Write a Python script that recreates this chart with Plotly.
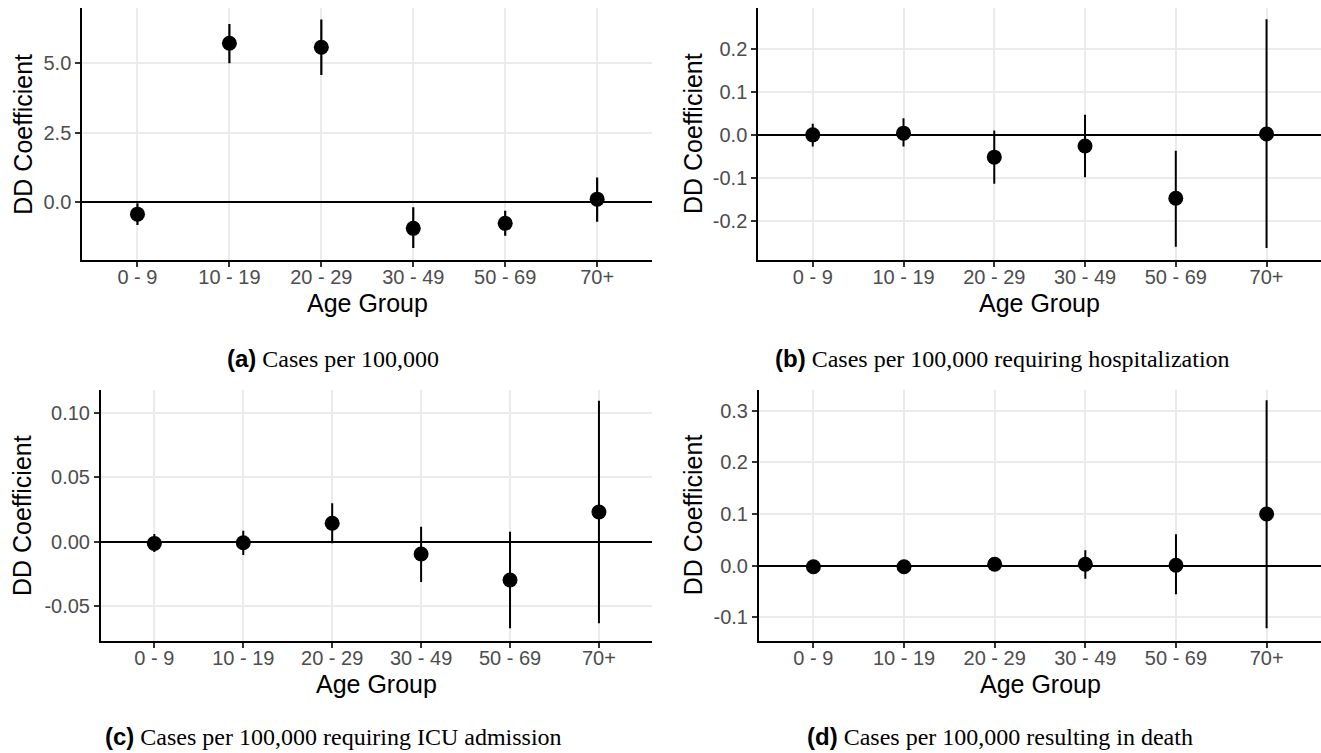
import plotly.graph_objects as go

# ---------------- data ----------------
categories = ["0 - 9", "10 - 19", "20 - 29", "30 - 49", "50 - 69", "70+"]

cases_est = [-0.43, 5.72, 5.58, -0.94, -0.76, 0.11]
cases_lo = [-0.82, 5.00, 4.58, -1.65, -1.21, -0.70]
cases_hi = [-0.04, 6.41, 6.58, -0.18, -0.31, 0.89]

hosp_est = [0.000, 0.004, -0.052, -0.026, -0.148, 0.002]
hosp_lo = [-0.027, -0.027, -0.114, -0.099, -0.261, -0.264]
hosp_hi = [0.026, 0.039, 0.010, 0.047, -0.037, 0.270]

icu_est = [-0.0013, -0.0008, 0.0143, -0.0096, -0.0298, 0.0231]
icu_lo = [-0.0080, -0.0103, -0.0012, -0.0313, -0.0673, -0.0635]
icu_hi = [0.0060, 0.0086, 0.0299, 0.0117, 0.0078, 0.1096]

death_est = [-0.002, -0.002, 0.003, 0.003, 0.001, 0.100]
death_lo = [-0.006, -0.006, -0.002, -0.025, -0.055, -0.121]
death_hi = [0.003, 0.003, 0.008, 0.030, 0.061, 0.320]

cases_ticks = [0.0, 2.5, 5.0]
cases_ticktext = ["0.0", "2.5", "5.0"]
hosp_ticks = [-0.2, -0.1, 0.0, 0.1, 0.2]
hosp_ticktext = ["-0.2", "-0.1", "0.0", "0.1", "0.2"]
icu_ticks = [-0.05, 0.0, 0.05, 0.10]
icu_ticktext = ["-0.05", "0.00", "0.05", "0.10"]
death_ticks = [-0.1, 0.0, 0.1, 0.2, 0.3]
death_ticktext = ["-0.1", "0.0", "0.1", "0.2", "0.3"]

captions = [
    "Cases per 100,000",
    "Cases per 100,000 requiring hospitalization",
    "Cases per 100,000 requiring ICU admission",
    "Cases per 100,000 resulting in death",
]
letters = ["(a)", "(b)", "(c)", "(d)"]
y_title = "DD Coefficient"
x_title = "Age Group"

# ---------------- layout geometry (pixels) ----------------
W, H = 1321, 753
panels = [
    dict(est=cases_est, lo=cases_lo, hi=cases_hi, ticks=cases_ticks, tt=cases_ticktext,
         yr=[-2.08, 6.99], px=(82.3, 652.3), py=(8, 260)),
    dict(est=hosp_est, lo=hosp_lo, hi=hosp_hi, ticks=hosp_ticks, tt=hosp_ticktext,
         yr=[-0.292, 0.296], px=(758.3, 1321), py=(8, 260)),
    dict(est=icu_est, lo=icu_lo, hi=icu_hi, ticks=icu_ticks, tt=icu_ticktext,
         yr=[-0.077, 0.118], px=(101, 652.3), py=(390, 640.7)),
    dict(est=death_est, lo=death_lo, hi=death_hi, ticks=death_ticks, tt=death_ticktext,
         yr=[-0.145, 0.340], px=(759, 1321), py=(390, 640.7)),
]
ytitle_x = [22.7, 693, 22.7, 693]
caption_pos = [(333, 358), (1002, 358), (333, 736), (1000, 736)]

fig = go.Figure()
layout = dict(width=W, height=H, margin=dict(l=0, r=0, t=0, b=0),
              paper_bgcolor="white", plot_bgcolor="white", showlegend=False,
              font=dict(family="Liberation Sans, Arial, sans-serif"))
annotations = []

for i, p in enumerate(panels):
    n = "" if i == 0 else str(i + 1)
    up = [h - e for h, e in zip(p["hi"], p["est"])]
    down = [e - l for e, l in zip(p["est"], p["lo"])]
    fig.add_trace(go.Scatter(
        x=categories, y=p["est"], mode="markers",
        marker=dict(color="black", size=15),
        error_y=dict(type="data", array=up, arrayminus=down, color="black",
                     thickness=2.2 if i == 0 else 2, width=0),
        xaxis="x" + n, yaxis="y" + n, hoverinfo="skip"))
    x0, x1 = p["px"]
    y0, y1 = p["py"]
    layout["xaxis" + n] = dict(
        domain=[x0 / W, min(x1 / W, 1.0)], anchor="y" + n, type="category",
        categoryorder="array", categoryarray=categories, range=[-0.6, 5.6],
        showline=True, linecolor="black", linewidth=2, showgrid=True,
        gridcolor="#EBEBEB", gridwidth=1.5, ticks="outside", ticklen=5,
        tickwidth=1.5, tickcolor="#333333", zeroline=False, ticklabelstandoff=-7,
        tickfont=dict(size=20, color="#4D4D4D"))
    layout["yaxis" + n] = dict(
        domain=[1 - y1 / H, 1 - y0 / H], anchor="x" + n, range=p["yr"],
        tickmode="array", tickvals=p["ticks"], ticktext=p["tt"],
        showline=True, linecolor="black", linewidth=2, showgrid=True,
        gridcolor="#EBEBEB", gridwidth=1.5, ticks="outside", ticklen=5,
        tickwidth=1.5, tickcolor="#333333", zeroline=True,
        zerolinecolor="black", zerolinewidth=2,
        tickfont=dict(size=20, color="#4D4D4D"))
    # axis titles
    annotations.append(dict(
        text=y_title, x=ytitle_x[i] / W, y=1 - (y0 + y1) / 2 / H, xref="paper", yref="paper",
        showarrow=False, textangle=-90, xanchor="center", yanchor="middle",
        font=dict(size=25, color="black")))
    annotations.append(dict(
        text=x_title, x=(x0 + min(x1, W)) / 2 / W, y=1 - (y1 + 43) / H, xref="paper",
        yref="paper", showarrow=False, xanchor="center", yanchor="middle",
        font=dict(size=25, color="black")))
    cx, cy = caption_pos[i]
    annotations.append(dict(
        text="<span style=\"font-family:'Liberation Sans', Arial, sans-serif\"><b>"
             + letters[i] + "</b></span> " + captions[i],
        x=cx / W, y=1 - cy / H, xref="paper", yref="paper", showarrow=False,
        xanchor="center", yanchor="middle",
        font=dict(size=24, color="black", family="Liberation Serif, Times New Roman, serif")))

layout["annotations"] = annotations
fig.update_layout(**layout)

fig.write_html("out.html", config={"displayModeBar": False},
               post_script="document.body.style.margin='0px';")
